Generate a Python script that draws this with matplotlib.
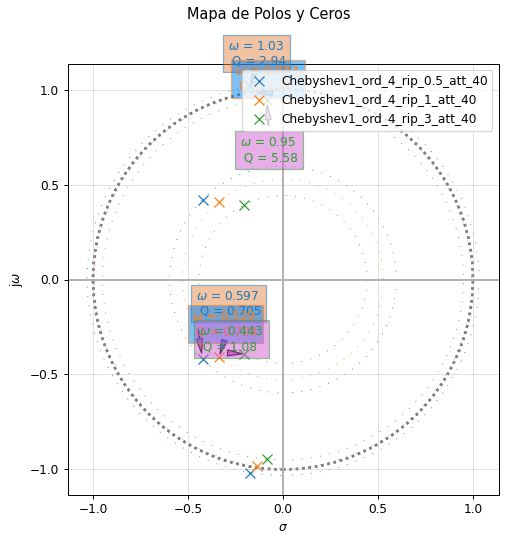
import numpy as np
import matplotlib
matplotlib.use('Agg')
from matplotlib import pyplot as plt
from matplotlib import patches
from matplotlib import colors as mcolors

labels = ['Chebyshev1_ord_4_rip_0.5_att_40',
          'Chebyshev1_ord_4_rip_1_att_40',
          'Chebyshev1_ord_4_rip_3_att_40']

# polos del semiplano superior, los conjugados se agregan abajo
poles_re_rip05 = [-0.1754, -0.4233]
poles_im_rip05 = [1.0163, 0.4209]
poles_re_rip1 = [-0.1395, -0.3369]
poles_im_rip1 = [0.9834, 0.4073]
poles_re_rip3 = [-0.0852, -0.2056]
poles_im_rip3 = [0.9465, 0.3920]

poles_re = [poles_re_rip05, poles_re_rip1, poles_re_rip3]
poles_im = [poles_im_rip05, poles_im_rip1, poles_im_rip3]

# que polo del par se anota (+1 el de arriba, -1 el de abajo)
annot_side = [[1, -1], [1, -1], [1, -1]]

# centro de cada cuadro de texto (coords de datos)
text_pos = [[(-0.139, 1.189), (-0.285, -0.127)],
            [(-0.080, 1.057), (-0.304, -0.235)],
            [(-0.073, 0.681), (-0.272, -0.314)]]

DPI = 87
fig = plt.figure(figsize=(506/DPI, 541/DPI), dpi=DPI)
ax = fig.add_axes([67/506, 46/541, 432/506, 431/541])

r_max = 1.0
for k in range(len(labels)):
    re = np.array(poles_re[k])
    im = np.array(poles_im[k])
    p = np.concatenate([re + 1j*im, re - 1j*im])
    r_max = max(r_max, np.abs(p).max())

    unit_circle = patches.Circle((0, 0), radius=1, fill=False,
                                 color='gray', ls='dotted', lw=2)
    ax.add_patch(unit_circle)
    ax.axvline(0, color='0.7')
    ax.axhline(0, color='0.7')

    poles = ax.plot(p.real, p.imag, 'x', markersize=9, label=labels[k])
    col = poles[0].get_color()
    inv = 1 - np.array(mcolors.to_rgb(col))

    for ii in range(len(re)):
        w0 = np.abs(re[ii] + 1j*im[ii])
        qq = w0 / (-2*re[ii])
        circle = patches.Circle((0, 0), radius=w0, color=col, fill=False,
                                ls=(0, (1, 10)), lw=0.7)
        ax.add_patch(circle)
        ax.annotate('$\\omega$ = {:3.3g} \n Q = {:3.3g}'.format(w0, qq),
                    xy=(re[ii], annot_side[k][ii]*im[ii]), xycoords='data',
                    xytext=text_pos[k][ii], textcoords='data',
                    arrowprops=dict(facecolor=inv, shrink=0.15, width=1, headwidth=5),
                    ha='center', va='center', multialignment='left',
                    color=col,
                    bbox=dict(facecolor=inv, edgecolor=col, alpha=0.5))

r = 1.1*r_max
ax.set_aspect('equal')
ax.axis([-r, r, -r, r])
ax.grid(True, alpha=0.4)
ax.set_xlabel('$\\sigma$')
ax.set_ylabel('j$\\omega$')
ax.legend(loc='upper right')
fig.text(269/506, 1 - 15/541, 'Mapa de Polos y Ceros', ha='center', va='center',
         fontsize='large')

fig.savefig('out.png', dpi=DPI)
